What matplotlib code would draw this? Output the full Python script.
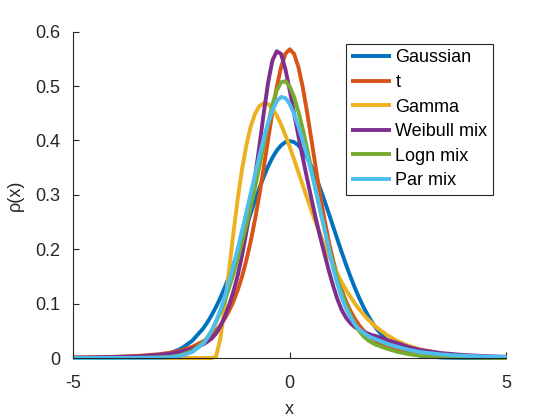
import matplotlib
matplotlib.use("Agg")
import matplotlib.pyplot as plt

plt.rcParams['font.family'] = ['Liberation Sans', 'DejaVu Sans']

# x grid of the curves
x = [-5, -4.5, -4, -3.5, -3, -2.75, -2.5, -2.25,
     -2.0, -1.9, -1.8, -1.7, -1.6, -1.5, -1.4, -1.3, -1.2, -1.1,
     -1.0, -0.9, -0.8, -0.7, -0.6, -0.5, -0.4, -0.3, -0.2, -0.1,
     0.0, 0.1, 0.2, 0.3, 0.4, 0.5, 0.6, 0.7, 0.8, 0.9,
     1.0, 1.1, 1.2, 1.3, 1.4, 1.5, 1.6, 1.7, 1.8, 1.9, 2.0,
     2.25, 2.5, 2.75, 3, 3.5, 4, 4.5, 5]

gaussian = [0.0, 0.0, 0.0001, 0.0009, 0.0044, 0.0091, 0.0175, 0.0317,
            0.0540, 0.0656, 0.0790, 0.0940, 0.1109, 0.1295, 0.1497, 0.1714, 0.1942, 0.2179,
            0.2420, 0.2661, 0.2897, 0.3123, 0.3332, 0.3521, 0.3683, 0.3814, 0.3910, 0.3970,
            0.3989, 0.3970, 0.3910, 0.3814, 0.3683, 0.3521, 0.3332, 0.3123, 0.2897, 0.2661,
            0.2420, 0.2179, 0.1942, 0.1714, 0.1497, 0.1295, 0.1109, 0.0940, 0.0790, 0.0656, 0.0540,
            0.0317, 0.0175, 0.0091, 0.0044, 0.0009, 0.0001, 0.0, 0.0]

t_dist = [0.0009, 0.0014, 0.0023, 0.0039, 0.0071, 0.0099, 0.0141, 0.0205,
          0.0305, 0.0360, 0.0426, 0.0506, 0.0604, 0.0722, 0.0866, 0.1039, 0.1249, 0.1500,
          0.1798, 0.2148, 0.2552, 0.3005, 0.3498, 0.4013, 0.4519, 0.4979, 0.5350, 0.5592,
          0.5676, 0.5592, 0.5350, 0.4979, 0.4519, 0.4013, 0.3498, 0.3005, 0.2552, 0.2148,
          0.1798, 0.1500, 0.1249, 0.1039, 0.0866, 0.0722, 0.0604, 0.0506, 0.0426, 0.0360, 0.0305,
          0.0205, 0.0141, 0.0099, 0.0071, 0.0039, 0.0023, 0.0014, 0.0009]

gamma = [0, 0, 0, 0, 0, 0, 0, 0,
         0, 0, 0, 0.0025, 0.0360, 0.0936, 0.1612, 0.2295, 0.2926, 0.3473,
         0.3918, 0.4257, 0.4492, 0.4632, 0.4687, 0.4670, 0.4588, 0.4459, 0.4293, 0.4097,
         0.3881, 0.3651, 0.3415, 0.3177, 0.2941, 0.2711, 0.2488, 0.2276, 0.2075, 0.1885,
         0.1709, 0.1544, 0.1392, 0.1252, 0.1124, 0.1006, 0.0899, 0.0802, 0.0714, 0.0635, 0.0564,
         0.0417, 0.0305, 0.0222, 0.0160, 0.0082, 0.0042, 0.0021, 0.0010]

weibull_mix = [0.0008, 0.0012, 0.002, 0.003, 0.006, 0.008, 0.012, 0.017,
               0.025, 0.030, 0.036, 0.045, 0.058, 0.076, 0.097, 0.122, 0.152, 0.189,
               0.232, 0.280, 0.333, 0.390, 0.450, 0.506, 0.547, 0.564, 0.559, 0.531,
               0.492, 0.450, 0.408, 0.368, 0.330, 0.293, 0.257, 0.223, 0.192, 0.161,
               0.133, 0.108, 0.088, 0.074, 0.064, 0.057, 0.052, 0.048, 0.045, 0.042, 0.040,
               0.033, 0.027, 0.020, 0.015, 0.009, 0.0055, 0.0035, 0.0022]

logn_mix = [0.0, 0.0, 0.0001, 0.0003, 0.001, 0.002, 0.0055, 0.013,
            0.028, 0.038, 0.050, 0.066, 0.084, 0.105, 0.129, 0.154, 0.183, 0.213,
            0.245, 0.278, 0.314, 0.352, 0.391, 0.431, 0.466, 0.492, 0.507, 0.509,
            0.499, 0.480, 0.453, 0.421, 0.385, 0.347, 0.309, 0.272, 0.237, 0.204,
            0.173, 0.145, 0.120, 0.098, 0.079, 0.063, 0.050, 0.040, 0.033, 0.028, 0.024,
            0.017, 0.011, 0.007, 0.0045, 0.002, 0.001, 0.0005, 0.0003]

par_mix = [0.0, 0.0, 0.0, 0.0002, 0.0005, 0.0015, 0.004, 0.011,
           0.026, 0.037, 0.051, 0.068, 0.088, 0.112, 0.141, 0.170, 0.201, 0.234,
           0.268, 0.303, 0.337, 0.371, 0.404, 0.432, 0.455, 0.472, 0.480, 0.478,
           0.467, 0.449, 0.426, 0.400, 0.372, 0.341, 0.309, 0.273, 0.238, 0.201,
           0.165, 0.136, 0.111, 0.091, 0.075, 0.062, 0.053, 0.047, 0.041, 0.037, 0.034,
           0.026, 0.020, 0.015, 0.011, 0.0065, 0.004, 0.0028, 0.002]

labels = ["Gaussian", "t", "Gamma", "Weibull mix", "Logn mix", "Par mix"]
series = [gaussian, t_dist, gamma, weibull_mix, logn_mix, par_mix]
colors = ["#0072BD", "#D95319", "#EDB120", "#7E2F8E", "#77AC30", "#4DBEEE"]

xticks = [-5, 0, 5]
yticks = [0, 0.1, 0.2, 0.3, 0.4, 0.5, 0.6]
ytick_labels = ["0", "0.1", "0.2", "0.3", "0.4", "0.5", "0.6"]

fig = plt.figure(figsize=(5.6, 4.2), dpi=100)
ax = fig.add_axes([0.1304, 0.1476, 0.774, 0.777])

for y, lab, c in zip(series, labels, colors):
    ax.plot(x, y, color=c, lw=2.8, label=lab, clip_on=False, solid_capstyle='butt')

ax.set_xlim(-5, 5)
ax.set_ylim(0, 0.6)
ax.set_xticks(xticks)
ax.set_xticklabels([str(v) for v in xticks])
ax.set_yticks(yticks)
ax.set_yticklabels(ytick_labels)

grey = "#262626"
for s in ["top", "right"]:
    ax.spines[s].set_visible(False)
for s in ["left", "bottom"]:
    ax.spines[s].set_color(grey)
    ax.spines[s].set_linewidth(0.8)
ax.tick_params(direction="in", length=4, width=0.8, colors=grey, labelsize=13)
ax.tick_params(axis="x", pad=12)
ax.tick_params(axis="y", pad=9)

ax.set_xlabel("x", fontsize=13, color=grey, labelpad=7)
ax.set_ylabel("ρ(x)", fontsize=13, color=grey, labelpad=8)

leg = ax.legend(loc="upper right", bbox_to_anchor=(0.969, 0.962), borderaxespad=0,
                fontsize=13, handlelength=2.2, handletextpad=0.25, labelspacing=0.42,
                borderpad=0.3, fancybox=False, framealpha=1)
leg.get_frame().set_edgecolor(grey)
leg.get_frame().set_linewidth(0.8)
for line in leg.get_lines():
    line.set_linewidth(2.8)

plt.savefig("out.png", dpi=100)
